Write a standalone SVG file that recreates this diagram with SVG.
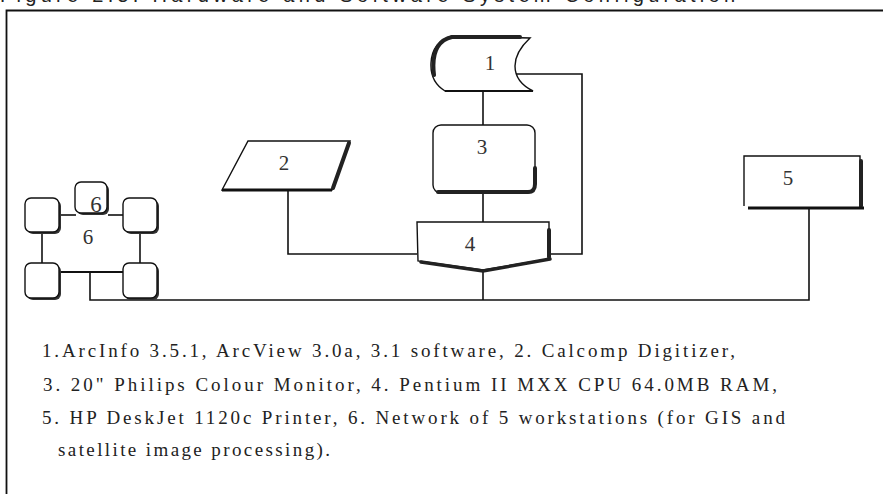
<svg xmlns="http://www.w3.org/2000/svg" width="883" height="494" viewBox="0 0 883 494">
<style>
.ln{fill:none;stroke:#111;stroke-width:1.6}
.shp{fill:#fff;stroke:#111;stroke-width:1.4}
.dk{fill:none;stroke:#222;stroke-linecap:round}
.lbl{font-family:"Liberation Serif","Times New Roman",serif;font-size:21px;fill:#333;text-anchor:middle}
.txt{font-family:"Liberation Serif","Times New Roman",serif;font-size:19px;fill:#222}
.cap{font-family:"Liberation Sans",Arial,sans-serif;font-size:20px;fill:#222}
</style>
<rect width="883" height="494" fill="#fff"/>
<text class="cap" x="0" y="2" textLength="735" lengthAdjust="spacing">Figure 2.5: Hardware and Software System Configuration</text>
<path class="ln" d="M6.5 494 V10.5 H883" style="stroke-width:1.8"/>

<g id="connectors">
<path class="ln" d="M483 91 V125"/>
<path class="ln" d="M516 74 H582 V254 H551"/>
<path class="ln" d="M483 193 V222"/>
<path class="ln" d="M288 190 V254 H417"/>
<path class="ln" d="M483 270 V300"/>
<path class="ln" d="M90 272 V300 H809 V208"/>
<path class="ln" d="M60 215 H76"/>
<path class="ln" d="M108 215 H123"/>
<path class="ln" d="M42 232 V263"/>
<path class="ln" d="M140 232 V263"/>
<path class="ln" d="M60 272 H123" style="stroke-width:2"/>
</g>

<g id="node1">
<path class="shp" d="M452 36 L530 38 Q515 52 515 66 Q515 82 533 91 L445 91 Q430 82 431 63 Q432 42 452 36 Z"/>
<path class="dk" d="M434 75 Q430 42 452 37 L520 37" style="stroke-width:4"/>
<path class="ln" d="M445 91 H533" style="stroke-width:2"/>
<text class="lbl" x="490" y="70">1</text>
</g>

<g id="node2">
<path class="shp" d="M248 141 H350 L332 190 H222 Z"/>
<path class="dk" d="M349 143 L333 188" style="stroke-width:4"/>
<path class="ln" d="M222 190 H332" style="stroke-width:3"/>
<text class="lbl" x="284" y="170">2</text>
</g>

<g id="node3">
<rect class="shp" x="433" y="125" width="102" height="68" rx="8"/>
<path class="dk" d="M438 192 H528 Q535 192 535 184 V168" style="stroke-width:4"/>
<text class="lbl" x="482" y="154">3</text>
</g>

<g id="node4">
<path class="shp" d="M417 222 H549 V259 L483 270 L418 261 Z"/>
<path class="dk" d="M549 230 V257" style="stroke-width:4"/>
<path class="dk" d="M421 262 L483 271 L550 259" style="stroke-width:3.5"/>
<text class="lbl" x="470" y="251">4</text>
</g>

<g id="node5">
<path class="shp" d="M744 206 V156 H860 V208 H748"/>
<path class="dk" d="M861 161 V206" style="stroke-width:4"/>
<path class="ln" d="M748 208 H864" style="stroke-width:3"/>
<text class="lbl" x="788" y="185">5</text>
</g>

<g id="node6">
<rect x="27" y="200" width="34" height="34" rx="6" fill="#333"/>
<rect class="shp" x="25" y="198" width="34" height="34" rx="6"/>
<rect x="77" y="184" width="32" height="31" rx="6" fill="#333"/>
<rect class="shp" x="75" y="182" width="32" height="31" rx="6"/>
<rect x="125" y="200" width="34" height="34" rx="6" fill="#333"/>
<rect class="shp" x="123" y="198" width="34" height="34" rx="6"/>
<rect x="27" y="265" width="34" height="35" rx="6" fill="#333"/>
<rect class="shp" x="25" y="263" width="34" height="35" rx="6"/>
<rect x="125" y="265" width="34" height="35" rx="6" fill="#333"/>
<rect class="shp" x="123" y="263" width="34" height="35" rx="6"/>
<text class="lbl" x="96" y="212" style="font-size:23px">6</text>
<text class="lbl" x="88" y="244">6</text>
</g>

<g id="legend">
<text class="txt" x="42" y="357" textLength="693" lengthAdjust="spacing">1.ArcInfo 3.5.1, ArcView 3.0a, 3.1 software, 2. Calcomp Digitizer,</text>
<text class="txt" x="43" y="391" textLength="734" lengthAdjust="spacing">3. 20" Philips Colour Monitor, 4. Pentium II MXX CPU 64.0MB RAM,</text>
<text class="txt" x="42" y="424" textLength="743" lengthAdjust="spacing">5. HP DeskJet 1120c Printer, 6. Network of 5 workstations (for GIS and</text>
<text class="txt" x="58" y="456" textLength="272" lengthAdjust="spacing">satellite image processing).</text>
</g>
</svg>
